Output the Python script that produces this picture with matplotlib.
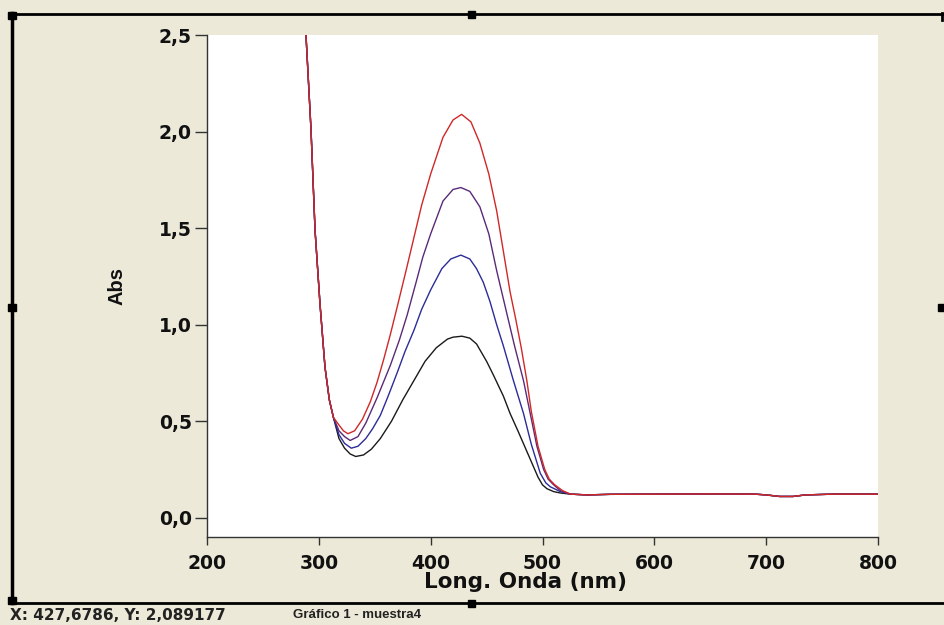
import matplotlib
matplotlib.use("Agg")
import matplotlib.pyplot as plt
from matplotlib.lines import Line2D
from matplotlib.patches import Rectangle
from matplotlib.ticker import FuncFormatter

# ---------------- data ----------------
# shared steep UV edge
wl_uv = [284, 288.6, 293, 296.6, 301, 305.5, 309.4, 313]
abs_uv = [2.80, 2.49, 2.01, 1.49, 1.11, 0.78, 0.61, 0.52]

# shared flat baseline
wl_base = [525, 540, 560, 600, 650, 690, 700, 712, 724, 735, 760, 800]
abs_base = [0.122, 0.118, 0.121, 0.122, 0.123, 0.122, 0.118, 0.110, 0.110, 0.118, 0.122, 0.122]

# sample curves (band region)
wl_black = [318, 323, 328, 333, 340, 347, 355, 365, 375, 385, 395, 405, 415, 420, 428, 435,
            441, 450, 456, 465, 471, 478, 484, 490, 496, 500, 504, 510, 516]
abs_black = [0.41, 0.36, 0.33, 0.317, 0.325, 0.355, 0.41, 0.50, 0.61, 0.71, 0.81, 0.88, 0.925, 0.935,
             0.94, 0.93, 0.90, 0.81, 0.74, 0.63, 0.54, 0.45, 0.37, 0.29, 0.21, 0.17, 0.15, 0.135, 0.128]

wl_blue = [318, 323, 329, 335, 342, 348, 355, 362, 370, 377, 385, 392, 400, 410, 418, 427, 435,
           441, 447, 453, 459, 465, 474, 483, 490, 498, 503, 507, 516]
abs_blue = [0.43, 0.385, 0.36, 0.37, 0.41, 0.46, 0.53, 0.63, 0.75, 0.86, 0.97, 1.08, 1.18, 1.29,
            1.34, 1.36, 1.34, 1.29, 1.22, 1.12, 1.00, 0.89, 0.71, 0.54, 0.38, 0.23, 0.18, 0.16, 0.135]

wl_purple = [318, 323, 328, 335, 342, 352, 364, 372, 379, 387, 393, 400, 411, 420, 427, 435,
             444, 452, 459, 468, 475, 483, 489, 495, 501, 505, 510, 516]
abs_purple = [0.45, 0.42, 0.40, 0.42, 0.49, 0.62, 0.79, 0.92, 1.05, 1.22, 1.35, 1.47, 1.64, 1.70,
              1.71, 1.69, 1.61, 1.47, 1.28, 1.06, 0.89, 0.71, 0.54, 0.37, 0.25, 0.20, 0.17, 0.14]

wl_red = [318, 322, 326, 332, 339, 346, 352, 358, 364, 370, 378, 385, 392, 400, 411, 420, 427.7,
          436, 444, 452, 459, 465, 471, 476, 481, 486, 490, 496, 502, 506, 511, 518]
abs_red = [0.48, 0.45, 0.435, 0.45, 0.51, 0.60, 0.70, 0.82, 0.95, 1.09, 1.28, 1.45, 1.62, 1.78,
           1.97, 2.06, 2.089, 2.05, 1.94, 1.78, 1.59, 1.38, 1.17, 1.03, 0.88, 0.71, 0.55, 0.37,
           0.25, 0.20, 0.17, 0.14]

series = [
    ("black", wl_black, abs_black, "#1a1a1a"),
    ("blue", wl_blue, abs_blue, "#2c2c9a"),
    ("purple", wl_purple, abs_purple, "#5a2a78"),
    ("red", wl_red, abs_red, "#d02828"),
]

x_ticks = [200, 300, 400, 500, 600, 700, 800]
y_ticks = [0.0, 0.5, 1.0, 1.5, 2.0, 2.5]

# ---------------- figure ----------------
W, H = 945, 625
fig = plt.figure(figsize=(W / 100, H / 100), dpi=100)
fig.patch.set_facecolor("#ECE9D8")

def fx(px):
    return px / W

def fy(py):
    return 1 - py / H

ax = fig.add_axes([fx(207), fy(537), fx(878) - fx(207), fy(35) - fy(537)])
ax.set_facecolor("white")

for name, wl, ab, col in series:
    ax.plot(wl_uv + wl + wl_base, abs_uv + ab + abs_base, color=col, lw=1.0)

ax.set_xlim(200, 800)
ax.set_ylim(-0.1, 2.5)
ax.set_xticks(x_ticks)
ax.set_yticks(y_ticks)
ax.yaxis.set_major_formatter(FuncFormatter(lambda v, p: f"{v:.1f}".replace(".", ",")))
ax.xaxis.set_major_formatter(FuncFormatter(lambda v, p: f"{int(v)}"))

for s in ["top", "right"]:
    ax.spines[s].set_visible(False)
for s in ["left", "bottom"]:
    ax.spines[s].set_color("#333333")
    ax.spines[s].set_linewidth(1.0)

ax.tick_params(axis="y", direction="out", length=9, width=1, color="#333333", pad=2,
               labelsize=13.5)
ax.tick_params(axis="x", direction="out", length=6, width=1, color="#333333", pad=6,
               labelsize=13.5)
for lab in ax.get_xticklabels() + ax.get_yticklabels():
    lab.set_fontweight("bold")
    lab.set_color("#111111")

fig.text(fx(526), fy(582), "Long. Onda (nm)", ha="center", va="center",
         fontsize=15.5, fontweight="bold", color="#111111")
fig.text(fx(117), fy(286), "Abs", ha="center", va="center", rotation=90,
         fontsize=14.5, fontweight="bold", color="#111111",
         family=["Liberation Sans Narrow", "Liberation Sans", "DejaVu Sans"])

# window frame
frame_kw = dict(color="black", transform=fig.transFigure)
fig.add_artist(Line2D([fx(11), fx(943)], [fy(13.5), fy(13.5)], lw=2.0, **frame_kw))
fig.add_artist(Line2D([fx(942), fx(942)], [fy(13), fy(20)], lw=2.0, **frame_kw))
fig.add_artist(Line2D([fx(12.5), fx(12.5)], [fy(13), fy(603)], lw=2.5, **frame_kw))
fig.add_artist(Line2D([fx(11), fx(943)], [fy(603), fy(603)], lw=2.0, **frame_kw))

# resize handles
for (hx, hy) in [(12, 15), (472, 14), (12, 307), (942, 307), (12, 600), (472, 603)]:
    fig.add_artist(Rectangle((fx(hx - 3.5), fy(hy + 3.5)), 7 / W, 7 / H,
                             transform=fig.transFigure, color="black"))

# status bar
fig.text(fx(10), fy(615), "X: 427,6786, Y: 2,089177", ha="left", va="center",
         fontsize=11, fontweight="bold", color="#222222", family="DejaVu Sans")
fig.text(fx(293), fy(615), "Gráfico 1 - muestra4", ha="left", va="center",
         fontsize=9.5, fontweight="bold", color="#222222", family="Liberation Sans")

fig.savefig("out.png", dpi=100, facecolor=fig.get_facecolor())
